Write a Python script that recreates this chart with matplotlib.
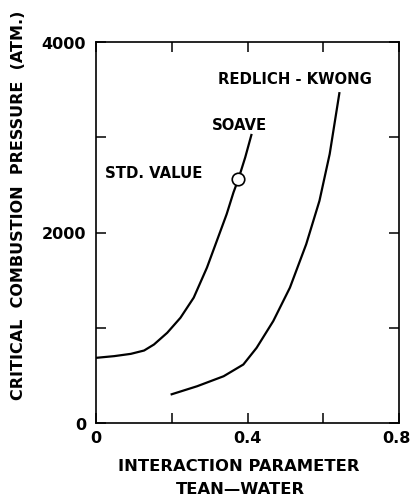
import matplotlib
matplotlib.use("Agg")
import matplotlib.pyplot as plt
from matplotlib.transforms import ScaledTranslation

# Data
soave_x = [0.0, 0.048, 0.092, 0.127, 0.153, 0.188, 0.223, 0.258, 0.293, 0.319, 0.345, 0.363, 0.376, 0.394, 0.411]
soave_y = [684, 702, 726, 761, 824, 947, 1105, 1316, 1632, 1912, 2193, 2421, 2561, 2789, 3035]
rk_x = [0.197, 0.267, 0.337, 0.389, 0.424, 0.468, 0.512, 0.555, 0.590, 0.617, 0.643]
rk_y = [298, 386, 491, 614, 789, 1070, 1421, 1877, 2333, 2824, 3474]
std_x = [0.376]
std_y = [2561]
xticks_major = [0, 0.4, 0.8]
xticks_labels = ["0", "0.4", "0.8"]
xticks_minor = [0.2, 0.6]
yticks_major = [0, 2000, 4000]
yticks_labels = ["0", "2000", "4000"]
yticks_minor = [1000, 3000]

plt.rcParams['font.family'] = ['DejaVu Sans']
fig = plt.figure(figsize=(4.11, 5.02), dpi=100)
ax = fig.add_axes([96 / 411, 1 - 424 / 502, 303 / 411, 381 / 502])

ax.plot(soave_x, soave_y, color='black', lw=1.6, solid_capstyle='butt')
ax.plot(rk_x, rk_y, color='black', lw=1.6, solid_capstyle='butt')
ax.plot(std_x, std_y, 'o', ms=9, mfc='white', mec='black', mew=1.2, zorder=5)

ax.set_xlim(0, 0.8)
ax.set_ylim(0, 4000)
ax.set_xticks(xticks_major)
ax.set_xticklabels(xticks_labels)
ax.set_xticks(xticks_minor, minor=True)
ax.set_yticks(yticks_major)
ax.set_yticklabels(yticks_labels)
ax.set_yticks(yticks_minor, minor=True)

for s in ax.spines.values():
    s.set_linewidth(1.2)
ax.tick_params(which='both', direction='in', top=True, right=True, length=7, width=1.1,
               labelsize=11.5)
ax.tick_params(axis='x', which='major', pad=5)
ax.tick_params(axis='y', which='major', pad=7)

fw = 'bold'
ax.text(0.525, 3612, "REDLICH - KWONG", ha='center', va='center', fontsize=10.7, fontweight=fw)
ax.text(0.380, 3139, "SOAVE", ha='center', va='center', fontsize=10.7, fontweight=fw)
ax.text(0.024, 2635, "STD. VALUE", ha='left', va='center', fontsize=10.7, fontweight=fw)

for lbl in ax.get_xticklabels() + ax.get_yticklabels():
    lbl.set_fontweight(fw)
# nudge the last x tick label slightly left so it stays inside the canvas
last = ax.get_xticklabels()[-1]
last.set_transform(last.get_transform() + ScaledTranslation(-3 / 100, 0, fig.dpi_scale_trans))

fig.text(239 / 411, 1 - 467 / 502, "INTERACTION PARAMETER", ha='center', va='center',
         fontsize=11.8, fontweight=fw)
fig.text(240 / 411, 1 - 490 / 502, "TEAN\u2014WATER", ha='center', va='center',
         fontsize=11.8, fontweight=fw)
fig.text(19 / 411, 1 - 205 / 502, "CRITICAL  COMBUSTION  PRESSURE  (ATM.)", rotation=90,
         ha='center', va='center', fontsize=11.5, fontweight=fw)

fig.savefig("out.png", dpi=100)
